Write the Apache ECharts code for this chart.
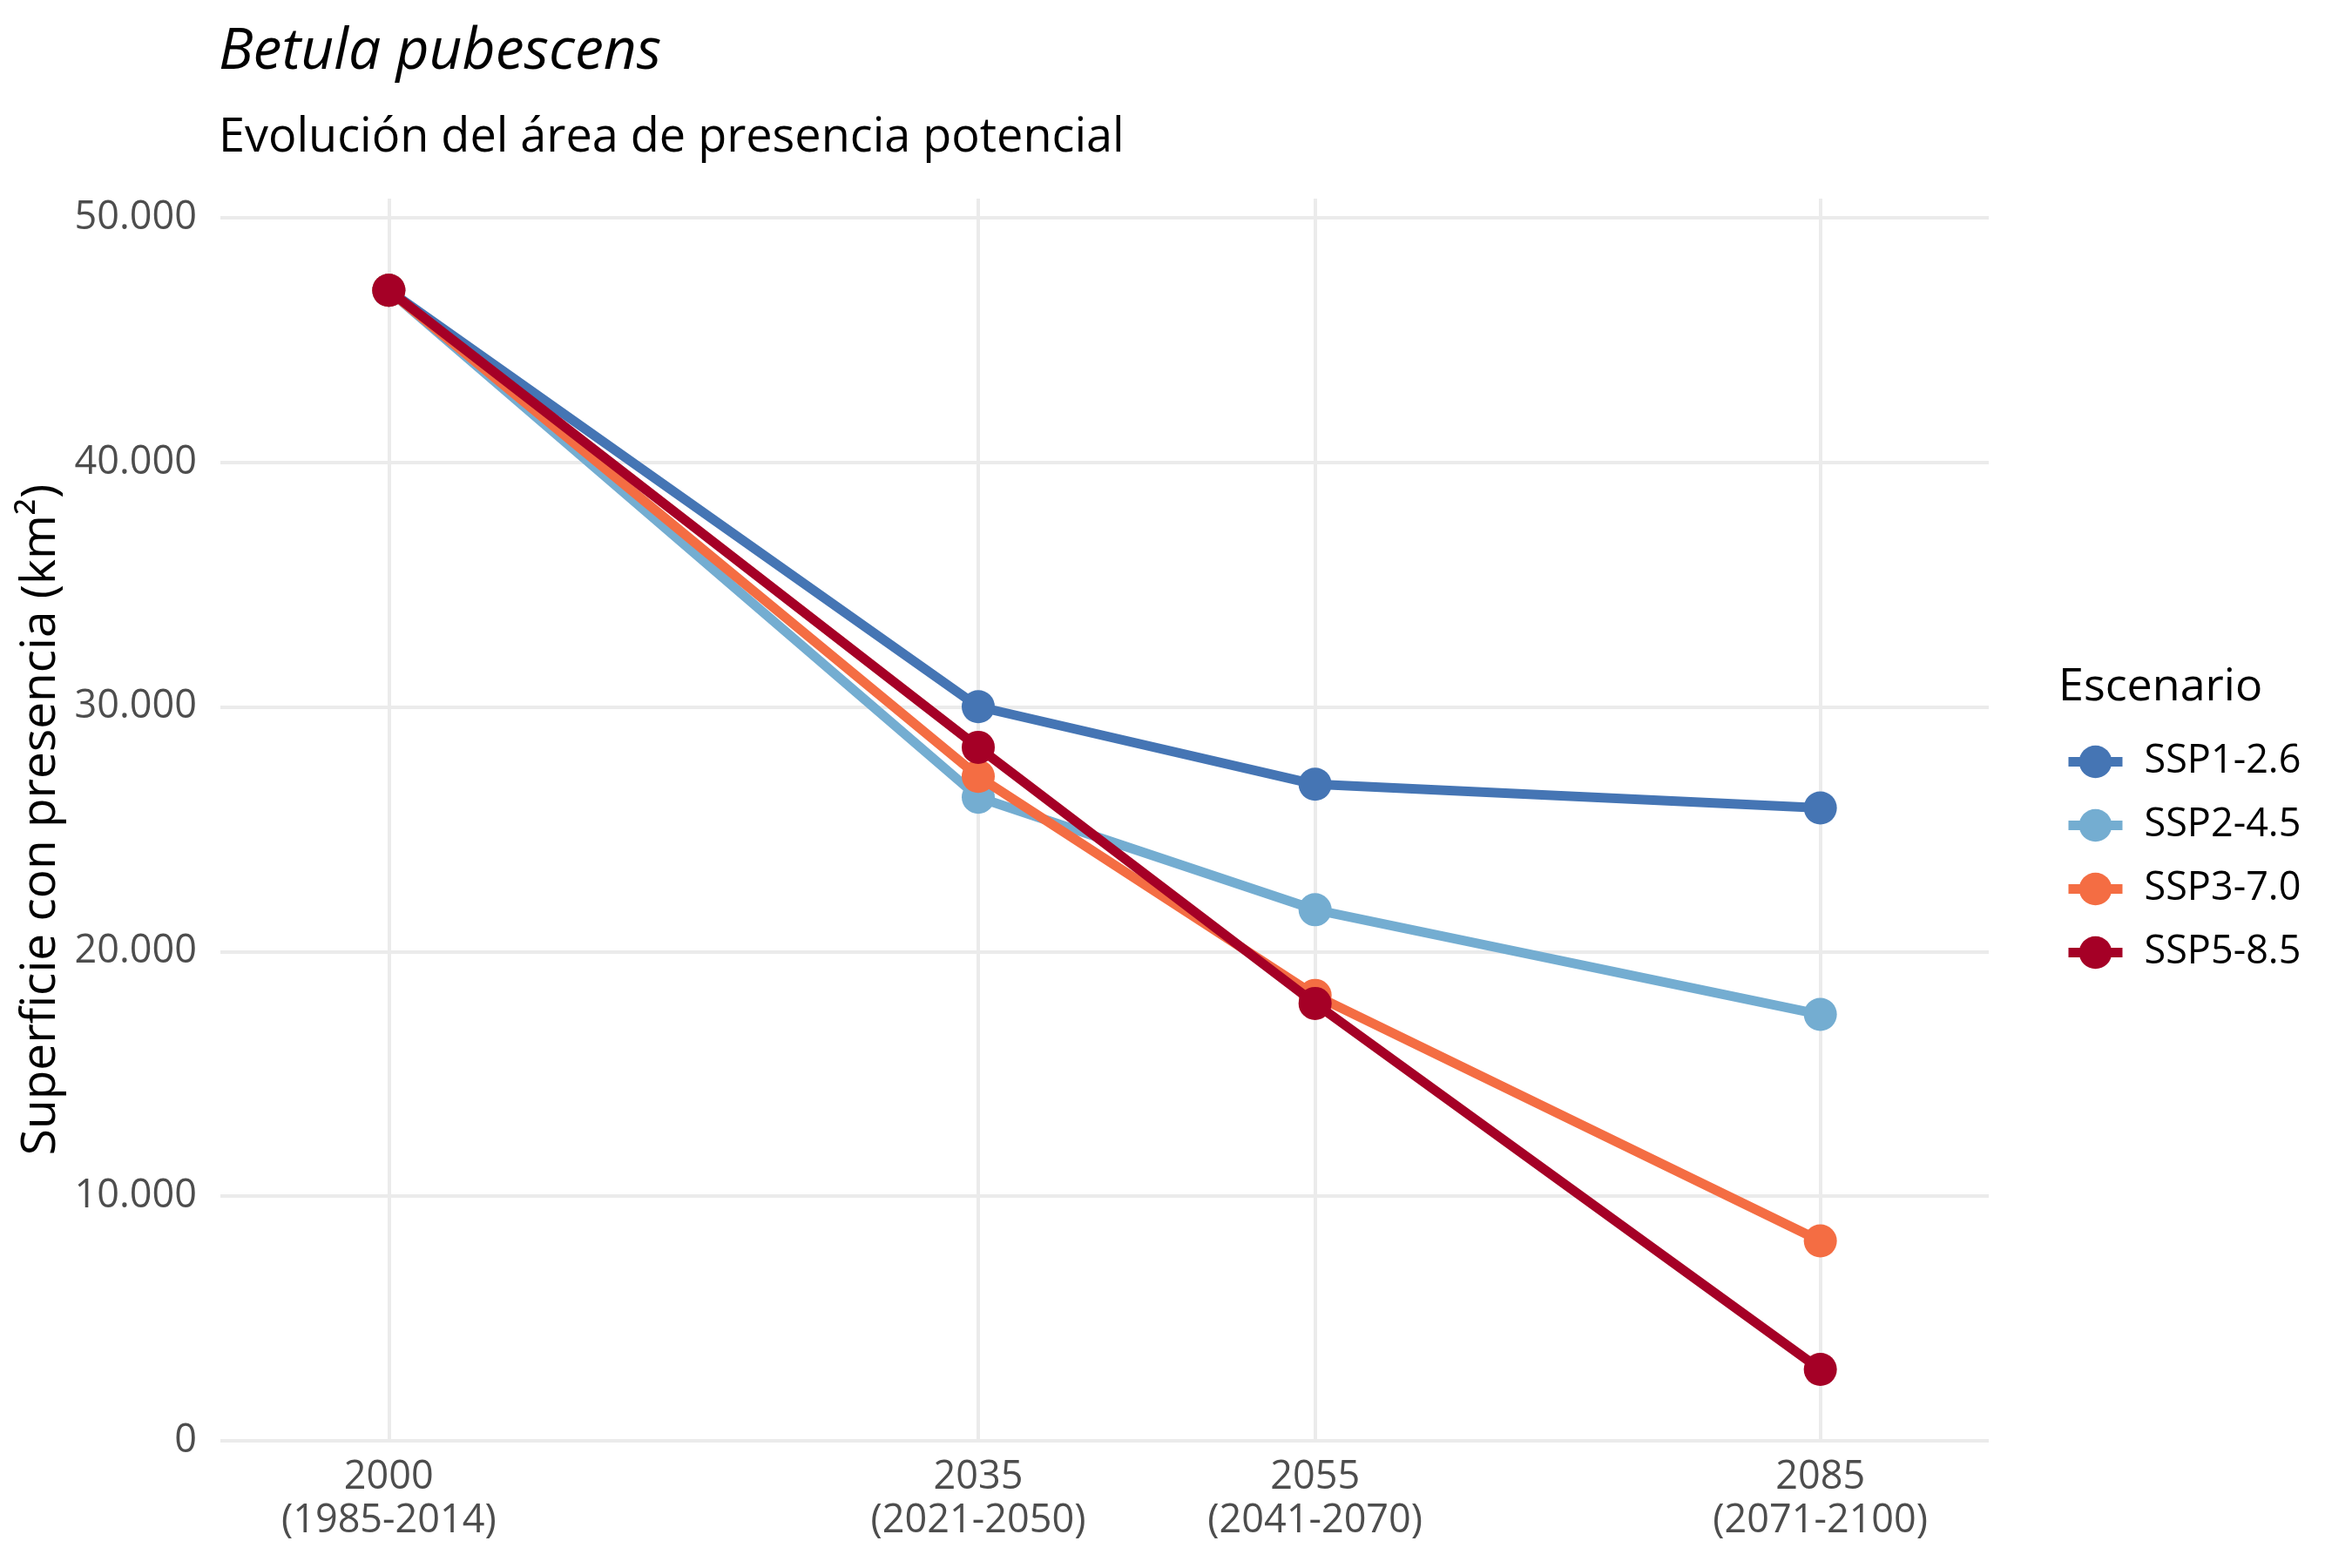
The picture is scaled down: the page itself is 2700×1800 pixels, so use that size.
<!DOCTYPE html>
<html><head><meta charset="utf-8">
<script src="https://cdn.jsdelivr.net/npm/echarts@6/dist/echarts.min.js"></script>
<style>html,body{margin:0;padding:0;background:#fff}#c{width:2700px;height:1800px}</style>
</head><body><div id="c"></div>
<script>
const years = [2000, 2035, 2055, 2085];
const periodLabels = ['(1985-2014)', '(2021-2050)', '(2041-2070)', '(2071-2100)'];
const scenarios = ['SSP1-2.6', 'SSP2-4.5', 'SSP3-7.0', 'SSP5-8.5'];
const ssp126 = [47030, 30010, 26840, 25870];
const ssp245 = [47030, 26310, 21710, 17430];
const ssp370 = [47030, 27160, 18210, 8170];
const ssp585 = [47030, 28350, 17880, 2920];
const yTicks = [0, 10000, 20000, 30000, 40000, 50000];
const colors = ['#4575b4', '#74add1', '#f46d43', '#a50026'];
const values = [ssp126, ssp245, ssp370, ssp585];

const font = '"Open Sans", "Noto Sans", sans-serif';
const chart = echarts.init(document.getElementById('c'), null, {renderer: 'canvas'});
const fmt = v => String(v).replace(/\B(?=(\d{3})+(?!\d))/g, '.');

chart.setOption({
  backgroundColor: '#fff',
  animation: false,
  title: [
    {text: 'Betula pubescens', left: 246, top: 22,
     textStyle: {fontFamily: font, fontStyle: 'italic', fontWeight: 'normal', fontSize: 66, color: '#000'}},
    {text: 'Evolución del área de presencia potencial', left: 246, top: 127,
     textStyle: {fontFamily: font, fontWeight: 'normal', fontSize: 54, color: '#000'}},
    {text: 'Escenario', left: 2358, top: 758,
     textStyle: {fontFamily: font, fontWeight: 'normal', fontSize: 52, color: '#000'}}
  ],
  legend: {
    orient: 'vertical', left: 2364, top: 847,
    itemWidth: 62, itemHeight: 47, itemGap: 28,
    data: scenarios,
    lineStyle: {width: 11},
    textStyle: {fontFamily: font, fontSize: 45, color: '#000', padding: [0,0,0,20]}
  },
  grid: {left: 253, right: 417, top: 228, bottom: 146, containLabel: false},
  xAxis: {
    type: 'value', min: 1990, max: 2095,
    axisLine: {show: false}, axisTick: {show: false, customValues: years},
    axisLabel: {customValues: years, fontFamily: font, fontSize: 45, color: '#4d4d4d', margin: 17, lineHeight: 50,
      formatter: v => { const i = years.indexOf(v); return i < 0 ? '' : years[i] + '\n' + periodLabels[i]; }},
    splitLine: {show: true, lineStyle: {color: '#ebebeb', width: 4}}
  },
  yAxis: {
    type: 'value', min: 0, max: 50780,
    name: 'Superficie con presencia (km²)', nameLocation: 'middle', nameGap: 167, nameRotate: 90,
    nameTextStyle: {fontFamily: font, fontSize: 55, color: '#000'},
    axisLine: {show: false}, axisTick: {show: false, customValues: yTicks},
    axisLabel: {customValues: yTicks, fontFamily: font, fontSize: 45, color: '#4d4d4d', margin: 27, formatter: v => fmt(v)},
    splitLine: {show: true, lineStyle: {color: '#ebebeb', width: 4}}
  },
  series: scenarios.map((s, i) => ({
    name: s, type: 'line', data: years.map((y, j) => [y, values[i][j]]),
    symbol: 'circle', symbolSize: 38,
    lineStyle: {width: 11, color: colors[i]},
    itemStyle: {color: colors[i]},
    z: 2 + i
  }))
});
</script></body></html>
